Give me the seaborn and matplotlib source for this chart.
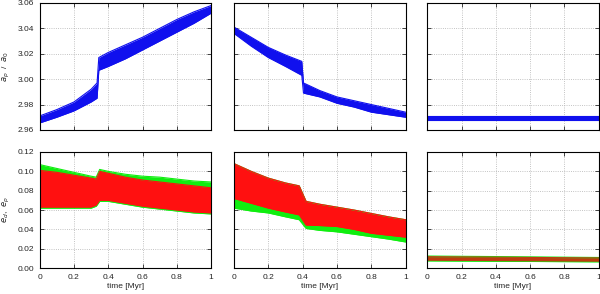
import numpy as np
import pandas as pd
import matplotlib
matplotlib.use("Agg")
import matplotlib.pyplot as plt
import seaborn as sns

sns.set_style("ticks")
plt.rcParams["font.family"] = ["Liberation Sans", "DejaVu Sans"]
plt.rcParams["mathtext.fontset"] = "dejavusans"

# --- semi-major axis bands (a_p / a_0), lower / upper envelope ---
a1_t = [0.0, 0.1, 0.2, 0.3, 0.335, 0.345, 0.4, 0.5, 0.6, 0.7, 0.8, 0.9, 1.0]
a1_lo = [2.9655, 2.970, 2.975, 2.982, 2.985, 3.007, 3.010, 3.016, 3.023, 3.030, 3.037, 3.044, 3.052]
a1_hi = [2.971, 2.976, 2.982, 2.992, 2.997, 3.017, 3.021, 3.027, 3.033, 3.040, 3.047, 3.053, 3.058]

a2_t = [0.0, 0.1, 0.2, 0.3, 0.395, 0.405, 0.5, 0.6, 0.7, 0.8, 0.9, 1.0]
a2_lo = [3.036, 3.026, 3.017, 3.010, 3.003, 2.989, 2.986, 2.981, 2.978, 2.974, 2.972, 2.970]
a2_hi = [3.041, 3.033, 3.025, 3.019, 3.014, 2.997, 2.991, 2.986, 2.983, 2.980, 2.977, 2.974]

a3_t = [0.0, 0.5, 1.0]
a3_lo = [2.968, 2.968, 2.968]
a3_hi = [2.971, 2.971, 2.971]

# --- eccentricity bands: green (e_d) and red (e_p) ---
e1_t = [0.0, 0.1, 0.2, 0.3, 0.33, 0.35, 0.4, 0.5, 0.6, 0.7, 0.8, 0.9, 1.0]
e1_g_lo = [0.062, 0.062, 0.062, 0.062, 0.064, 0.069, 0.069, 0.066, 0.063, 0.061, 0.059, 0.057, 0.056]
e1_g_hi = [0.107, 0.103, 0.099, 0.095, 0.094, 0.102, 0.100, 0.097, 0.095, 0.094, 0.092, 0.090, 0.089]
e1_r_lo = [0.063, 0.063, 0.063, 0.063, 0.065, 0.070, 0.070, 0.067, 0.064, 0.062, 0.060, 0.058, 0.057]
e1_r_hi = [0.101, 0.099, 0.096, 0.093, 0.092, 0.100, 0.098, 0.094, 0.091, 0.089, 0.087, 0.085, 0.083]

e2_t = [0.0, 0.1, 0.2, 0.3, 0.38, 0.42, 0.5, 0.6, 0.7, 0.8, 0.9, 1.0]
e2_g_lo = [0.062, 0.059, 0.057, 0.053, 0.050, 0.041, 0.039, 0.0375, 0.035, 0.0325, 0.030, 0.027]
e2_g_hi = [0.108, 0.100, 0.093, 0.088, 0.085, 0.069, 0.066, 0.063, 0.060, 0.0565, 0.053, 0.050]
e2_r_lo = [0.072, 0.067, 0.062, 0.058, 0.055, 0.0445, 0.044, 0.043, 0.040, 0.036, 0.034, 0.032]
e2_r_hi = [0.108, 0.100, 0.093, 0.088, 0.085, 0.069, 0.066, 0.063, 0.060, 0.0565, 0.053, 0.050]

e3_t = [0.0, 0.5, 1.0]
e3_g_lo = [0.0075, 0.007, 0.0065]
e3_g_hi = [0.0125, 0.0118, 0.011]
e3_r_lo = [0.0082, 0.0077, 0.0072]
e3_r_hi = [0.0118, 0.0112, 0.0105]

BLUE = "#1010ee"
GREEN = "#10ee10"
RED = "#ff1010"

fig = plt.figure(figsize=(6.0, 2.94), dpi=100)
lefts = [0.066, 0.390, 0.712]
width = 0.286
top_axes = [fig.add_axes([l, 0.558, width, 0.432]) for l in lefts]
bot_axes = [fig.add_axes([l, 0.088, width, 0.395]) for l in lefts]


def band(ax, t, lo, hi, color, alpha=1.0):
    df = pd.DataFrame({"t": t, "lo": lo, "hi": hi})
    ax.fill_between(df["t"], df["lo"], df["hi"], color=color, lw=0, alpha=alpha)
    sns.lineplot(data=df, x="t", y="lo", ax=ax, color=color, lw=0.8, alpha=alpha)
    sns.lineplot(data=df, x="t", y="hi", ax=ax, color=color, lw=0.8, alpha=alpha)


band(top_axes[0], a1_t, a1_lo, a1_hi, BLUE)
band(top_axes[1], a2_t, a2_lo, a2_hi, BLUE)
band(top_axes[2], a3_t, a3_lo, a3_hi, BLUE)

band(bot_axes[0], e1_t, e1_g_lo, e1_g_hi, GREEN)
band(bot_axes[0], e1_t, e1_r_lo, e1_r_hi, RED)
band(bot_axes[1], e2_t, e2_g_lo, e2_g_hi, GREEN)
band(bot_axes[1], e2_t, e2_r_lo, e2_r_hi, RED)
band(bot_axes[2], e3_t, e3_g_lo, e3_g_hi, GREEN)
band(bot_axes[2], e3_t, e3_r_lo, e3_r_hi, "#c03a10")

xticks = [0, 0.2, 0.4, 0.6, 0.8, 1]
xlabels = ["0", "0.2", "0.4", "0.6", "0.8", "1"]
a_ticks = [2.96, 2.98, 3.00, 3.02, 3.04, 3.06]
e_ticks = [0.00, 0.02, 0.04, 0.06, 0.08, 0.10, 0.12]

for i, ax in enumerate(top_axes + bot_axes):
    ax.set_xlim(0, 1)
    ax.set_xticks(xticks)
    ax.grid(True, color="#b0b0b0", ls=":", lw=0.6)
    ax.tick_params(direction="in", top=True, right=True, length=3, width=0.6,
                   labelsize=6, pad=4)
    for s in ax.spines.values():
        s.set_linewidth(0.8)
        s.set_color("black")
    ax.set_xlabel("")
    ax.set_ylabel("")

for i, ax in enumerate(top_axes):
    ax.set_ylim(2.96, 3.06)
    ax.set_yticks(a_ticks)
    ax.set_xticklabels([])
    if i == 0:
        ax.set_yticklabels(["%.2f" % v for v in a_ticks])
        ax.set_ylabel("$a_p$  /  $a_0$", fontsize=6, labelpad=4)
    else:
        ax.set_yticklabels([])

for i, ax in enumerate(bot_axes):
    ax.set_ylim(0, 0.12)
    ax.set_yticks(e_ticks)
    ax.set_xticklabels(xlabels)
    ax.set_xlabel("time [Myr]", fontsize=6, labelpad=2)
    if i == 0:
        ax.set_yticklabels(["%.2f" % v for v in e_ticks])
        ax.set_ylabel("$e_d$,  $e_p$", fontsize=6, labelpad=4)
    else:
        ax.set_yticklabels([])

fig.savefig("out.png", dpi=100)
